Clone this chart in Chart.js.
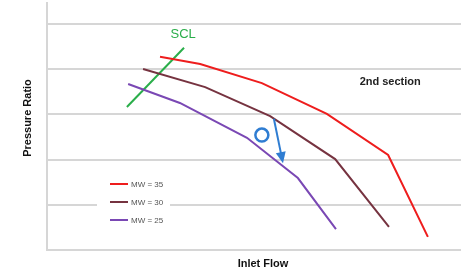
<!DOCTYPE html>
<html>
<head>
<meta charset="utf-8">
<script src="https://cdn.jsdelivr.net/npm/chart.js@4"></script>
<style>
  html,body{margin:0;padding:0;background:#fff;}
  #wrap{position:relative;width:461px;height:272px;}
</style>
</head>
<body>
<div id="wrap"><canvas id="chart" width="461" height="272"></canvas></div>
<script>
// data (flow / pressure ratio, arbitrary units)
const flowMW35 = [2.73, 3.70, 5.19, 6.76, 8.24, 9.20];
const ratioMW35 = [4.27, 4.11, 3.69, 3.01, 2.10, 0.29];
const flowMW30 = [2.32, 3.82, 5.39, 6.96, 8.26];
const ratioMW30 = [4.00, 3.60, 2.96, 2.01, 0.51];
const flowMW25 = [1.96, 3.21, 4.83, 6.06, 6.98];
const ratioMW25 = [3.67, 3.25, 2.48, 1.59, 0.46];
const sclFlow = [1.93, 3.31];
const sclRatio = [3.16, 4.47];
const yTicks = [0, 1, 2, 3, 4, 5];
const seriesLabels = ["MW = 35", "MW = 30", "MW = 25"];
// operating point and its move
const opPoint = [5.19, 2.54];
const arrowFrom = [5.48, 2.90];
const arrowTo = [5.70, 1.92];

const pts = (xs, ys) => xs.map((x, i) => ({x: x, y: ys[i]}));
const colors = ["#ee1d1d", "#763340", "#7a48b4"];

const notes = {
  id: "notes",
  afterDatasetsDraw(chart){
    const ctx = chart.ctx, xs = chart.scales.x, ys = chart.scales.y;
    ctx.save();
    // SCL label
    ctx.fillStyle = "#2aae4a";
    ctx.font = "13px 'Liberation Sans', Arial";
    ctx.textAlign = "center"; ctx.textBaseline = "middle";
    ctx.fillText("SCL", xs.getPixelForValue(3.29), ys.getPixelForValue(4.76));
    // section label
    ctx.fillStyle = "#222";
    ctx.font = "bold 11px 'Liberation Sans', Arial";
    ctx.fillText("2nd section", xs.getPixelForValue(8.29), ys.getPixelForValue(3.71));
    // arrow
    const ax = xs.getPixelForValue(arrowFrom[0]), ay = ys.getPixelForValue(arrowFrom[1]);
    const bx = xs.getPixelForValue(arrowTo[0]), by = ys.getPixelForValue(arrowTo[1]);
    const ang = Math.atan2(by - ay, bx - ax);
    ctx.strokeStyle = "#2f7dd2"; ctx.fillStyle = "#2f7dd2"; ctx.lineWidth = 2;
    ctx.beginPath(); ctx.moveTo(ax, ay);
    ctx.lineTo(bx - 9 * Math.cos(ang), by - 9 * Math.sin(ang)); ctx.stroke();
    ctx.beginPath(); ctx.moveTo(bx, by);
    ctx.lineTo(bx - 11 * Math.cos(ang) + 5 * Math.sin(ang), by - 11 * Math.sin(ang) - 5 * Math.cos(ang));
    ctx.lineTo(bx - 11 * Math.cos(ang) - 5 * Math.sin(ang), by - 11 * Math.sin(ang) + 5 * Math.cos(ang));
    ctx.closePath(); ctx.fill();
    // legend box
    ctx.fillStyle = "#fff";
    ctx.fillRect(97, 176, 73, 52);
    ctx.font = "8px 'Liberation Sans', Arial";
    ctx.textAlign = "left";
    seriesLabels.forEach((lab, i) => {
      const y = 184 + i * 18;
      ctx.strokeStyle = colors[i]; ctx.lineWidth = 2;
      ctx.beginPath(); ctx.moveTo(110, y); ctx.lineTo(128, y); ctx.stroke();
      ctx.fillStyle = "#555";
      ctx.fillText(lab, 131, y + 0.5);
    });
    // axis titles
    ctx.fillStyle = "#111";
    ctx.font = "bold 11px 'Liberation Sans', Arial";
    ctx.textAlign = "center";
    ctx.fillText("Inlet Flow", 263, 264);
    ctx.translate(28, 118); ctx.rotate(-Math.PI / 2);
    ctx.fillText("Pressure Ratio", 0, 0);
    ctx.restore();
  }
};

new Chart(document.getElementById("chart"), {
  type: "line",
  data: {
    datasets: [
      {label: seriesLabels[0], data: pts(flowMW35, ratioMW35), borderColor: colors[0]},
      {label: seriesLabels[1], data: pts(flowMW30, ratioMW30), borderColor: colors[1]},
      {label: seriesLabels[2], data: pts(flowMW25, ratioMW25), borderColor: colors[2]},
      {label: "SCL", data: pts(sclFlow, sclRatio), borderColor: "#2aae4a"},
      {label: "op", data: [{x: opPoint[0], y: opPoint[1]}], showLine: false,
       pointRadius: 6.5, pointBorderWidth: 2.5, pointBorderColor: "#2f7dd2", pointBackgroundColor: "rgba(0,0,0,0)"}
    ]
  },
  options: {
    responsive: false,
    animation: false,
    layout: {autoPadding: false, padding: {left: 47, top: 3, right: 0, bottom: 22}},
    elements: {line: {borderWidth: 2, tension: 0}, point: {radius: 0}},
    plugins: {legend: {display: false}, tooltip: {enabled: false}},
    scales: {
      x: {type: "linear", min: 0, max: 10,
          ticks: {display: false}, grid: {display: false, drawTicks: false},
          border: {display: true, color: "#d6d6d6", width: 2}},
      y: {min: 0, max: 5.46,
          afterBuildTicks: s => { s.ticks = yTicks.map(v => ({value: v})); },
          ticks: {display: false},
          grid: {color: "#d6d6d6", lineWidth: 2, drawTicks: false},
          border: {display: true, color: "#d6d6d6", width: 2}}
    }
  },
  plugins: [notes]
});
</script>
</body>
</html>
